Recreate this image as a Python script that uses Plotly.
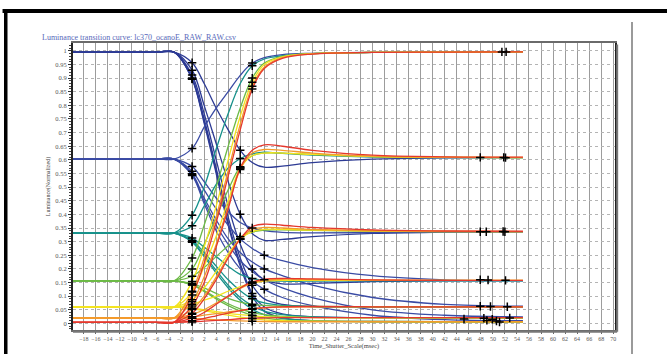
import plotly.graph_objects as go

TITLE = "Luminance transition curve: lc370_ocanoE_RAW_RAW.csv"
X_TITLE = "Time_Shutter_Scale(msec)"
Y_TITLE = "Luminance(Normalized)"

# common time samples (msec)
T = [-20, -6, -3, 0, 2, 4, 6, 8, 10, 12, 15, 20, 30, 42, 55]

# start level ~1.0 (blue) -> 0.6, 0.33, 0.155, 0.06, 0.02, 0.005
from_1000 = [
    [0.995, 0.995, 0.995, 0.956, 0.88, 0.79, 0.71, 0.635, 0.59, 0.573, 0.577, 0.59, 0.603, 0.607, 0.608],
    [0.995, 0.995, 0.995, 0.929, 0.80, 0.66, 0.52, 0.40, 0.33, 0.305, 0.308, 0.318, 0.33, 0.335, 0.337],
    [0.995, 0.995, 0.995, 0.911, 0.77, 0.60, 0.43, 0.29, 0.20, 0.16, 0.145, 0.147, 0.153, 0.156, 0.157],
    [0.995, 0.995, 0.995, 0.900, 0.75, 0.57, 0.39, 0.24, 0.14, 0.09, 0.07, 0.062, 0.06, 0.061, 0.061],
    [0.995, 0.995, 0.995, 0.897, 0.74, 0.56, 0.37, 0.22, 0.11, 0.06, 0.035, 0.025, 0.021, 0.02, 0.02],
    [0.995, 0.995, 0.995, 0.896, 0.735, 0.55, 0.36, 0.21, 0.10, 0.045, 0.02, 0.01, 0.007, 0.006, 0.006],
]
# start level ~0.6 (blue) -> 1.0, 0.33, 0.155, 0.06, 0.02, 0.005
from_600 = [
    [0.603, 0.603, 0.603, 0.642, 0.72, 0.79, 0.85, 0.91, 0.955, 0.975, 0.986, 0.991, 0.994, 0.995, 0.996],
    [0.603, 0.603, 0.603, 0.576, 0.52, 0.46, 0.41, 0.37, 0.35, 0.34, 0.334, 0.332, 0.333, 0.335, 0.335],
    [0.603, 0.603, 0.603, 0.558, 0.49, 0.42, 0.36, 0.31, 0.275, 0.25, 0.23, 0.205, 0.175, 0.16, 0.157],
    [0.603, 0.603, 0.603, 0.549, 0.46, 0.38, 0.31, 0.26, 0.225, 0.20, 0.175, 0.14, 0.095, 0.07, 0.063],
    [0.603, 0.603, 0.603, 0.545, 0.45, 0.36, 0.29, 0.23, 0.19, 0.16, 0.13, 0.095, 0.05, 0.03, 0.024],
    [0.603, 0.603, 0.603, 0.543, 0.44, 0.34, 0.26, 0.20, 0.155, 0.125, 0.095, 0.065, 0.03, 0.014, 0.01],
]
# start level ~0.33 (teal) -> 1.0, 0.6, 0.155, 0.06, 0.02, 0.005
from_330 = [
    [0.331, 0.331, 0.331, 0.397, 0.50, 0.64, 0.77, 0.88, 0.945, 0.97, 0.982, 0.99, 0.994, 0.995, 0.996],
    [0.331, 0.331, 0.331, 0.358, 0.43, 0.51, 0.57, 0.605, 0.622, 0.628, 0.624, 0.617, 0.61, 0.608, 0.608],
    [0.331, 0.331, 0.331, 0.313, 0.28, 0.245, 0.21, 0.18, 0.165, 0.158, 0.155, 0.155, 0.156, 0.156, 0.156],
    [0.331, 0.331, 0.331, 0.304, 0.26, 0.21, 0.16, 0.12, 0.09, 0.075, 0.066, 0.062, 0.061, 0.061, 0.061],
    [0.331, 0.331, 0.331, 0.300, 0.25, 0.195, 0.14, 0.095, 0.065, 0.045, 0.032, 0.024, 0.021, 0.02, 0.02],
    [0.331, 0.331, 0.331, 0.298, 0.245, 0.185, 0.13, 0.085, 0.052, 0.032, 0.018, 0.01, 0.007, 0.006, 0.006],
]
# start level ~0.155 (green) -> 1.0, 0.6, 0.33, 0.06, 0.02, 0.005
from_155 = [
    [0.156, 0.156, 0.156, 0.24, 0.36, 0.50, 0.65, 0.79, 0.90, 0.955, 0.98, 0.99, 0.994, 0.995, 0.996],
    [0.156, 0.156, 0.156, 0.20, 0.29, 0.39, 0.49, 0.575, 0.615, 0.625, 0.625, 0.62, 0.612, 0.609, 0.608],
    [0.156, 0.156, 0.156, 0.173, 0.205, 0.245, 0.285, 0.318, 0.335, 0.342, 0.343, 0.341, 0.338, 0.337, 0.337],
    [0.156, 0.156, 0.156, 0.146, 0.13, 0.11, 0.092, 0.078, 0.07, 0.066, 0.063, 0.062, 0.061, 0.061, 0.061],
    [0.156, 0.156, 0.156, 0.142, 0.12, 0.095, 0.072, 0.053, 0.04, 0.032, 0.026, 0.022, 0.021, 0.02, 0.02],
    [0.156, 0.156, 0.156, 0.141, 0.117, 0.09, 0.065, 0.045, 0.03, 0.02, 0.012, 0.008, 0.006, 0.006, 0.006],
]
# start level ~0.06 (yellow) -> 1.0, 0.6, 0.33, 0.155, 0.02, 0.005
from_060 = [
    [0.06, 0.06, 0.06, 0.154, 0.28, 0.43, 0.60, 0.76, 0.885, 0.95, 0.978, 0.99, 0.994, 0.995, 0.996],
    [0.06, 0.06, 0.06, 0.115, 0.21, 0.32, 0.45, 0.57, 0.615, 0.625, 0.625, 0.62, 0.612, 0.609, 0.608],
    [0.06, 0.06, 0.06, 0.087, 0.13, 0.19, 0.255, 0.31, 0.337, 0.345, 0.345, 0.342, 0.339, 0.337, 0.337],
    [0.06, 0.06, 0.06, 0.07, 0.085, 0.10, 0.118, 0.135, 0.148, 0.155, 0.158, 0.158, 0.158, 0.158, 0.158],
    [0.06, 0.06, 0.06, 0.056, 0.05, 0.043, 0.037, 0.032, 0.028, 0.025, 0.023, 0.021, 0.02, 0.02, 0.02],
    [0.06, 0.06, 0.06, 0.0545, 0.047, 0.038, 0.03, 0.023, 0.017, 0.013, 0.01, 0.008, 0.007, 0.006, 0.006],
]
# start level ~0.02 (orange) -> 1.0, 0.6, 0.33, 0.155, 0.06, 0.005
from_020 = [
    [0.02, 0.02, 0.02, 0.118, 0.24, 0.39, 0.56, 0.73, 0.87, 0.94, 0.975, 0.989, 0.994, 0.995, 0.996],
    [0.02, 0.02, 0.02, 0.079, 0.17, 0.29, 0.43, 0.565, 0.625, 0.638, 0.635, 0.625, 0.614, 0.61, 0.609],
    [0.02, 0.02, 0.02, 0.051, 0.10, 0.17, 0.245, 0.31, 0.345, 0.352, 0.35, 0.345, 0.34, 0.338, 0.337],
    [0.02, 0.02, 0.02, 0.0335, 0.05, 0.075, 0.10, 0.128, 0.148, 0.158, 0.162, 0.161, 0.159, 0.158, 0.158],
    [0.02, 0.02, 0.02, 0.024, 0.03, 0.036, 0.042, 0.048, 0.053, 0.057, 0.06, 0.061, 0.061, 0.061, 0.061],
    [0.02, 0.02, 0.02, 0.0185, 0.016, 0.013, 0.011, 0.009, 0.008, 0.007, 0.006, 0.006, 0.006, 0.006, 0.006],
]
# start level ~0.005 (red) -> 1.0, 0.6, 0.33, 0.155, 0.06, 0.02
from_005 = [
    [0.004, 0.004, 0.004, 0.104, 0.22, 0.37, 0.54, 0.71, 0.86, 0.935, 0.972, 0.988, 0.994, 0.995, 0.996],
    [0.004, 0.004, 0.004, 0.064, 0.15, 0.28, 0.42, 0.57, 0.635, 0.655, 0.65, 0.635, 0.617, 0.611, 0.61],
    [0.004, 0.004, 0.004, 0.037, 0.09, 0.16, 0.24, 0.31, 0.355, 0.364, 0.36, 0.352, 0.343, 0.339, 0.338],
    [0.004, 0.004, 0.004, 0.019, 0.04, 0.07, 0.10, 0.13, 0.152, 0.162, 0.165, 0.163, 0.16, 0.158, 0.158],
    [0.004, 0.004, 0.004, 0.0096, 0.018, 0.028, 0.038, 0.047, 0.054, 0.058, 0.061, 0.062, 0.061, 0.061, 0.061],
    [0.004, 0.004, 0.004, 0.0056, 0.008, 0.011, 0.014, 0.017, 0.019, 0.02, 0.021, 0.021, 0.021, 0.021, 0.021],
]

# sample index of the 10% point (t=0) and of the 90% point per curve
idx10 = 3
idx90_1000 = [7, 7, 8, 8, 8, 8]
idx90_600 = [8, 8, 9, 9, 9, 9]
idx90_330 = [8, 7, 8, 8, 8, 8]
idx90_155 = [8, 7, 7, 8, 8, 8]
idx90_060 = [8, 7, 7, 8, 8, 8]
idx90_020 = [8, 7, 7, 8, 8, 8]
idx90_005 = [8, 7, 7, 8, 8, 8]

# settle markers near the end of the record
tail_t = [51.5, 52.2, 47.9, 51.8, 52.1, 47.9, 48.9, 51.7, 52.0, 47.9, 49.2, 52.1, 47.9, 49.6, 52.4,
          45.2, 48.5, 49.0, 49.9, 50.6, 51.1, 52.8]
tail_y = [0.996, 0.996, 0.609, 0.609, 0.608, 0.336, 0.336, 0.337, 0.336, 0.16, 0.159, 0.158, 0.063, 0.062, 0.061,
          0.016, 0.019, 0.011, 0.015, 0.009, 0.005, 0.02]

groups = [
    (from_1000, "#2C3A94", idx90_1000),
    (from_600, "#3A4BA4", idx90_600),
    (from_330, "#17918B", idx90_330),
    (from_155, "#6CBA46", idx90_155),
    (from_060, "#F3E31E", idx90_060),
    (from_020, "#F39A2B", idx90_020),
    (from_005, "#E5382D", idx90_005),
]

fig = go.Figure()
mx, my = [], []
for curves, color, i90 in groups:
    for ys, k in zip(curves, i90):
        fig.add_trace(go.Scatter(
            x=T, y=ys, mode="lines",
            line=dict(color=color, width=1.3, shape="spline", smoothing=1.0),
            showlegend=False, hoverinfo="skip"))
        mx += [T[idx10], T[k]]
        my += [ys[idx10], ys[k]]

fig.add_trace(go.Scatter(
    x=mx + tail_t, y=my + tail_y, mode="markers",
    marker=dict(symbol="cross-thin", size=6, color="black", line=dict(width=1.5, color="black")),
    showlegend=False, hoverinfo="skip"))

SERIF = "Liberation Serif, DejaVu Serif, serif"

fig.update_layout(
    width=667, height=354,
    margin=dict(l=73, r=52, t=43, b=24, autoexpand=False),
    paper_bgcolor="white", plot_bgcolor="white",
    showlegend=False,
    title=dict(text=TITLE, x=42 / 667, xanchor="left", y=1 - 37 / 354, yanchor="middle",
               font=dict(family=SERIF, size=8, color="#5869BA")),
    xaxis=dict(
        range=[-19.8, 70.3], tick0=0, dtick=2,
        showgrid=True, gridcolor="#9c9c9c", gridwidth=1.3, zeroline=False,
        showline=True, linecolor="#6a6a6a", linewidth=2, mirror=True,
        ticks="outside", ticklen=2, tickcolor="#666",
        tickfont=dict(family=SERIF, size=6, color="#555"),
        title=dict(text=X_TITLE, font=dict(family=SERIF, size=6.5, color="#444"), standoff=1),
        automargin=False,
    ),
    yaxis=dict(
        range=[-0.0242, 1.0287], tick0=0, dtick=0.05,
        showgrid=True, gridcolor="#b4b4b4", gridwidth=1.2, griddash="dot", zeroline=False,
        showline=True, linecolor="#222", linewidth=2, mirror=True,
        ticks="outside", ticklen=3, tickcolor="#333",
        minor=dict(dtick=0.01, ticks="outside", ticklen=2, tickcolor="#444", showgrid=False),
        tickfont=dict(family=SERIF, size=6.5, color="#555"),
        title=dict(text=Y_TITLE, font=dict(family=SERIF, size=6, color="#444"), standoff=4),
        automargin=False,
    ),
    shapes=[
        # heavy black rule along the top of the page
        dict(type="rect", xref="paper", yref="paper", x0=-0.13, x1=1.0, y0=(330 - 13) / 287, y1=(330 - 9) / 287,
             fillcolor="black", line=dict(width=0), layer="above"),
        dict(type="rect", xref="paper", yref="paper", x0=1.0, x1=1.1, y0=(330 - 13) / 287, y1=(330 - 9) / 287,
             fillcolor="black", line=dict(width=0), layer="above"),
        # black rule down the left edge
        dict(type="rect", xref="paper", yref="paper", x0=(4 - 73) / 542, x1=(7.5 - 73) / 542, y0=-0.1, y1=(330 - 9) / 287,
             fillcolor="black", line=dict(width=0), layer="above"),
        # thin gray separator on the right
        dict(type="line", xref="paper", yref="paper", x0=(632 - 73) / 542, x1=(632 - 73) / 542, y0=-0.1, y1=(330 - 22) / 287,
             line=dict(color="#9a9a9a", width=2)),
        # frame shadow right and bottom
        dict(type="line", xref="paper", yref="paper", x0=1.004, x1=1.004, y0=-0.006, y1=0.995,
             line=dict(color="#777", width=2), layer="above"),
        dict(type="line", xref="paper", yref="paper", x0=0.0, x1=1.004, y0=-0.006, y1=-0.006,
             line=dict(color="#777", width=2), layer="above"),
    ],
)

fig.write_html("out.html", config={"displayModeBar": False},
               post_script="document.body.style.margin='0';document.body.style.overflow='hidden';")
